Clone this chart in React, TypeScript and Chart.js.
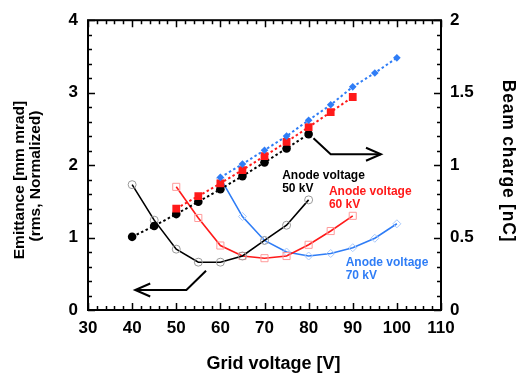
import { useEffect, useRef } from 'react';
import { Chart, registerables } from 'chart.js';

Chart.register(...registerables);

// ---- data ----
const gridVoltage50 = [40, 45, 50, 55, 60, 65, 70, 75, 80];
const gridVoltage60 = [50, 55, 60, 65, 70, 75, 80, 85, 90];
const gridVoltage70 = [60, 65, 70, 75, 80, 85, 90, 95, 100];

const emittance50 = [1.73, 1.24, 0.84, 0.66, 0.66, 0.745, 0.96, 1.17, 1.52];
const emittance60 = [1.7, 1.27, 0.89, 0.745, 0.715, 0.745, 0.9, 1.09, 1.3];
const emittance70 = [1.82, 1.29, 0.96, 0.8, 0.745, 0.78, 0.86, 0.99, 1.19];

const charge50 = [0.505, 0.58, 0.662, 0.747, 0.834, 0.924, 1.019, 1.115, 1.214];
const charge60 = [0.7, 0.786, 0.874, 0.966, 1.062, 1.16, 1.262, 1.366, 1.47];
const charge70 = [0.915, 1.007, 1.103, 1.2, 1.31, 1.416, 1.54, 1.636, 1.74];

const xTitle = 'Grid voltage [V]';
const yTitleLines = ['Emittance [mm mrad]', '(rms, Normalized)'];
const y1Title = 'Beam charge [nC]';

const seriesLabels = [
  { lines: ['Anode voltage', '50 kV'], x: 74.0, y: 1.815, color: '#000000' },
  { lines: ['Anode voltage', '60 kV'], x: 84.6, y: 1.59, color: '#ff1a1a' },
  { lines: ['Anode voltage', '70 kV'], x: 88.4, y: 0.61, color: '#2f7df6' },
];

// arrows in data coordinates (left axis units), last point = head
const arrowRight = [
  [81.1, 2.37],
  [85.0, 2.15],
  [96.4, 2.15],
];
const arrowLeft = [
  [56.75, 0.542],
  [52.3, 0.276],
  [40.7, 0.276],
];

const FONT = "'Liberation Sans', Arial, Helvetica, sans-serif";

const pts = (xs: number[], ys: number[]) => xs.map((x, i) => ({ x, y: ys[i] }));

const deco = {
  id: 'deco',
  beforeDatasetsDraw(chart: any) {
    const { ctx, chartArea: a, scales } = chart;
    const xs = scales.x;
    const ys = scales.y;
    const y1s = scales.y1;
    ctx.save();
    ctx.strokeStyle = '#000';
    ctx.lineWidth = 1.5;
    ctx.beginPath();
    for (let v = 30; v <= 110; v += 2) {
      const p = Math.round(xs.getPixelForValue(v)) + 0.5;
      const len = v % 10 === 0 ? 7 : 4;
      ctx.moveTo(p, a.bottom);
      ctx.lineTo(p, a.bottom - len);
      ctx.moveTo(p, a.top);
      ctx.lineTo(p, a.top + len);
    }
    for (let k = 0; k <= 20; k++) {
      const v = k * 0.2;
      const p = Math.round(ys.getPixelForValue(v)) + 0.5;
      const len = k % 5 === 0 ? 7 : 4;
      ctx.moveTo(a.left, p);
      ctx.lineTo(a.left + len, p);
    }
    for (let k = 0; k <= 20; k++) {
      const v = k * 0.1;
      const p = Math.round(y1s.getPixelForValue(v)) + 0.5;
      const len = k % 5 === 0 ? 7 : 4;
      ctx.moveTo(a.right, p);
      ctx.lineTo(a.right - len, p);
    }
    ctx.stroke();
    ctx.lineWidth = 2;
    ctx.strokeRect(a.left, a.top, a.right - a.left, a.bottom - a.top);
    ctx.restore();
  },
  afterDraw(chart: any) {
    const { ctx, chartArea: a, scales } = chart;
    const xs = scales.x;
    const ys = scales.y;
    ctx.save();
    // arrows
    const drawArrow = (path: number[][]) => {
      const p = path.map(([x, y]) => [xs.getPixelForValue(x), ys.getPixelForValue(y)]);
      ctx.strokeStyle = '#000';
      ctx.lineWidth = 2;
      ctx.lineJoin = 'miter';
      ctx.beginPath();
      ctx.moveTo(p[0][0], p[0][1]);
      for (let i = 1; i < p.length; i++) ctx.lineTo(p[i][0], p[i][1]);
      ctx.stroke();
      const [hx, hy] = p[p.length - 1];
      const [px, py] = p[p.length - 2];
      const ang = Math.atan2(hy - py, hx - px);
      const L = 15;
      const W = 6.5;
      const bx = hx - Math.cos(ang) * L;
      const by = hy - Math.sin(ang) * L;
      const nx = -Math.sin(ang) * W;
      const ny = Math.cos(ang) * W;
      ctx.beginPath();
      ctx.moveTo(bx + nx, by + ny);
      ctx.lineTo(hx, hy);
      ctx.lineTo(bx - nx, by - ny);
      ctx.stroke();
    };
    drawArrow(arrowRight);
    drawArrow(arrowLeft);

    // series labels
    ctx.font = `bold 12px ${FONT}`;
    ctx.textAlign = 'left';
    ctx.textBaseline = 'alphabetic';
    for (const lab of seriesLabels) {
      const x = xs.getPixelForValue(lab.x);
      const y = ys.getPixelForValue(lab.y);
      ctx.fillStyle = lab.color;
      lab.lines.forEach((t, i) => ctx.fillText(t, x, y + i * 13.5));
    }

    // axis titles
    ctx.fillStyle = '#000';
    ctx.textAlign = 'center';
    ctx.textBaseline = 'middle';
    ctx.font = `bold 18px ${FONT}`;
    ctx.fillText(xTitle, (a.left + a.right) / 2 + 9, 364);

    ctx.font = `bold 15.5px ${FONT}`;
    ctx.save();
    ctx.translate(20, 180);
    ctx.rotate(-Math.PI / 2);
    ctx.fillText(yTitleLines[0], 0, 0);
    ctx.restore();
    ctx.save();
    ctx.translate(36, 176);
    ctx.rotate(-Math.PI / 2);
    ctx.fillText(yTitleLines[1], 0, 0);
    ctx.restore();

    ctx.font = `bold 17.5px ${FONT}`;
    try {
      (ctx as any).letterSpacing = '0.8px';
    } catch (e) {
      /* ignore */
    }
    ctx.save();
    ctx.translate(508, 161);
    ctx.rotate(Math.PI / 2);
    ctx.fillText(y1Title, 0, 0);
    ctx.restore();

    ctx.restore();
  },
};

export default function App() {
  const ref = useRef<HTMLCanvasElement | null>(null);
  useEffect(() => {
    if (!ref.current) return;
    Chart.defaults.font.family = FONT;
    const dotted = { borderDash: [2.5, 2.5], borderWidth: 2, tension: 0 };
    const solid = { borderWidth: 1.6, tension: 0, borderDash: [] as number[] };
    const chart = new Chart(ref.current, {
      type: 'line',
      data: {
        datasets: [
          {
            label: 'Charge 70 kV',
            data: pts(gridVoltage70, charge70),
            yAxisID: 'y1',
            borderColor: '#2f7df6',
            backgroundColor: '#2f7df6',
            pointStyle: 'rectRot',
            pointRadius: 3.8,
            pointBorderWidth: 0,
            order: 0,
            ...dotted,
          },
          {
            label: 'Charge 60 kV',
            data: pts(gridVoltage60, charge60),
            yAxisID: 'y1',
            borderColor: '#ff1a1a',
            backgroundColor: '#ff1a1a',
            pointStyle: 'rect',
            pointRadius: 5.5,
            pointBorderWidth: 0,
            order: 1,
            ...dotted,
          },
          {
            label: 'Charge 50 kV',
            data: pts(gridVoltage50, charge50),
            yAxisID: 'y1',
            borderColor: '#000000',
            backgroundColor: '#000000',
            pointStyle: 'circle',
            pointRadius: 4.3,
            pointBorderWidth: 0,
            order: 2,
            ...dotted,
          },
          {
            label: 'Emittance 50 kV',
            data: pts(gridVoltage50, emittance50),
            yAxisID: 'y',
            borderColor: '#000000',
            backgroundColor: 'rgba(0,0,0,0)',
            pointBorderColor: '#9a9a9a',
            pointStyle: 'circle',
            pointRadius: 4,
            pointBorderWidth: 1,
            order: 3,
            ...solid,
          },
          {
            label: 'Emittance 60 kV',
            data: pts(gridVoltage60, emittance60),
            yAxisID: 'y',
            borderColor: '#ff1a1a',
            backgroundColor: 'rgba(0,0,0,0)',
            pointBorderColor: '#ff9a9a',
            pointStyle: 'rect',
            pointRadius: 5,
            pointBorderWidth: 1,
            order: 4,
            ...solid,
          },
          {
            label: 'Emittance 70 kV',
            data: pts(gridVoltage70, emittance70),
            yAxisID: 'y',
            borderColor: '#2f7df6',
            backgroundColor: 'rgba(0,0,0,0)',
            pointBorderColor: '#a9c9fb',
            pointStyle: 'rectRot',
            pointRadius: 4,
            pointBorderWidth: 1,
            order: 5,
            ...solid,
          },
        ],
      },
      options: {
        animation: false,
        responsive: false,
        layout: { padding: { top: 20, left: 0, right: 0, bottom: 0 } },
        plugins: { legend: { display: false }, tooltip: { enabled: false } },
        scales: {
          x: {
            type: 'linear',
            min: 30,
            max: 110,
            grid: { display: false, drawTicks: false },
            border: { display: false },
            ticks: {
              stepSize: 10,
              color: '#000',
              padding: 8,
              font: { size: 17, weight: 'bold' },
            },
            afterFit: (s: any) => {
              s.height = 63;
            },
          },
          y: {
            type: 'linear',
            position: 'left',
            min: 0,
            max: 4,
            grid: { display: false, drawTicks: false },
            border: { display: false },
            ticks: {
              stepSize: 1,
              color: '#000',
              padding: 10,
              font: { size: 17, weight: 'bold' },
            },
            afterFit: (s: any) => {
              s.width = 88;
            },
          },
          y1: {
            type: 'linear',
            position: 'right',
            min: 0,
            max: 2,
            grid: { display: false, drawTicks: false },
            border: { display: false },
            ticks: {
              stepSize: 0.5,
              color: '#000',
              padding: 9,
              font: { size: 17, weight: 'bold' },
              callback: (v: any) => String(Number(v)),
            },
            afterFit: (s: any) => {
              s.width = 78;
            },
          },
        },
      } as any,
      plugins: [deco],
    });
    return () => chart.destroy();
  }, []);
  return (
    <div style={{ position: 'absolute', left: 0, top: 0, width: 519, height: 373, background: '#fff' }}>
      <canvas ref={ref} width={519} height={373} style={{ display: 'block' }} />
    </div>
  );
}
